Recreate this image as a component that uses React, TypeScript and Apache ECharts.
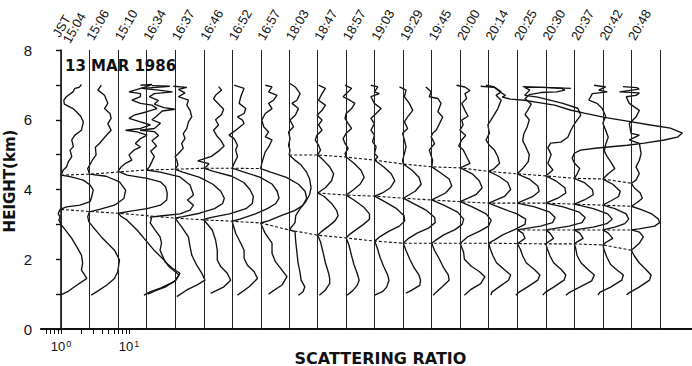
import React, { useEffect, useRef } from "react";
import * as echarts from "echarts";

// Observation times (JST), one per profile
const TIMES = ["15:04", "15:06", "15:10", "16:34", "16:37", "16:46", "16:52", "16:57", "18:03", "18:47", "18:57", "19:03", "19:29", "19:45", "20:00", "20:14", "20:25", "20:30", "20:37", "20:42", "20:48"];

// Each profile: [height km, scattering ratio]
const P1504 = [[7.01,2.0],[6.93,1.85],[6.9,1.6],[6.8,1.5],[6.66,1.2],[6.56,1.1],[6.45,1.12],[6.32,1.5],[6.22,1.7],[6.1,1.95],[5.94,2.13],[5.7,2.0],[5.56,1.6],[5.42,1.44],[5.23,1.52],[5.13,1.36],[4.94,1.44],[4.79,1.28],[4.65,1.21],[4.56,1.08],[4.41,1.0],[4.37,1.36],[4.27,2.13],[4.13,2.67],[3.99,2.98],[3.79,2.83],[3.65,2.67],[3.55,1.9],[3.5,1.21],[3.43,0.97],[3.31,0.91],[3.21,0.97],[3.12,0.93],[2.98,1.02],[2.79,1.21],[2.6,1.44],[2.36,1.7],[2.12,2.0],[1.89,2.08],[1.69,2.0],[1.45,2.4],[1.22,1.6],[1.07,1.25],[0.98,1.0]];
const P1506 = [[6.99,1.49],[6.85,1.33],[6.7,1.66],[6.47,1.86],[6.32,1.66],[6.18,2.0],[6.04,2.08],[5.89,1.86],[5.7,2.08],[5.49,1.66],[5.32,1.4],[5.21,1.22],[4.99,1.25],[4.84,1.1],[4.6,0.94],[4.44,1.0],[4.38,1.76],[4.22,2.76],[3.98,3.4],[3.74,3.2],[3.55,2.33],[3.43,1.4],[3.36,1.0],[3.22,0.94],[3.07,0.98],[2.88,1.18],[2.64,1.49],[2.26,2.33],[1.98,2.76],[1.64,2.6],[1.45,2.33],[1.26,1.8],[1.1,1.35],[0.97,1.06]];
const P1510 = [[6.99,2.14],[7.01,3.16],[6.93,2.4],[6.8,1.45],[6.75,2.14],[6.66,2.14],[6.56,1.6],[6.47,2.14],[6.42,3.16],[6.32,3.74],[6.23,2.67],[6.13,1.72],[6.04,1.45],[5.94,2.14],[5.85,3.0],[5.75,2.14],[5.7,1.29],[5.65,1.9],[5.56,2.67],[5.46,2.14],[5.32,1.8],[5.22,2.14],[5.13,1.72],[4.99,1.45],[4.84,1.6],[4.75,1.29],[4.63,1.09],[4.52,1.0],[4.41,1.36],[4.32,2.67],[4.22,4.2],[4.08,5.0],[3.89,5.3],[3.7,5.2],[3.55,4.2],[3.45,2.67],[3.38,1.53],[3.32,1.03],[3.24,1.09],[3.12,1.36],[2.84,1.9],[2.55,2.54],[2.26,3.38],[1.98,4.75],[1.79,5.6],[1.55,7.9],[1.36,6.7],[1.17,4.2],[1.07,3.0],[0.97,2.4]];
const P1634 = [[6.98,1.2],[6.96,2.2],[6.93,1.4],[6.9,0.85],[6.85,1.5],[6.8,2.4],[6.75,1.3],[6.66,1.1],[6.55,1.5],[6.45,1.3],[6.35,1.8],[6.3,2.6],[6.25,1.7],[6.1,1.4],[6.0,1.2],[5.9,1.6],[5.75,1.3],[5.7,0.8],[5.66,1.3],[5.55,1.5],[5.4,1.2],[5.25,1.4],[5.1,1.15],[4.95,1.3],[4.8,1.2],[4.65,1.1],[4.56,1.0],[4.5,1.58],[4.36,3.1],[4.13,4.36],[3.84,4.9],[3.7,4.0],[3.55,4.9],[3.41,4.36],[3.3,3.1],[3.24,1.58],[3.21,1.13],[3.17,1.18],[3.04,1.13],[2.84,1.33],[2.64,1.58],[2.46,1.66],[2.26,1.58],[1.93,1.87],[1.75,2.37],[1.6,3.1],[1.4,2.71],[1.2,1.87],[1.09,1.33],[1.0,1.05]];
const P1637 = [[6.96,0.94],[6.93,1.49],[6.87,1.12],[6.77,1.4],[6.66,1.12],[6.56,1.57],[6.42,1.49],[6.27,1.66],[6.08,1.76],[5.94,1.57],[5.75,1.49],[5.6,1.32],[5.46,1.4],[5.32,1.25],[5.18,1.32],[5.03,1.12],[4.94,1.0],[4.84,1.06],[4.7,1.1],[4.58,1.0],[4.5,1.3],[4.35,2.3],[4.15,3.6],[3.95,4.7],[3.75,5.3],[3.6,5.0],[3.45,3.8],[3.32,2.3],[3.22,1.3],[3.18,1.0],[2.93,1.25],[2.64,1.57],[2.36,1.66],[2.12,1.76],[1.83,2.08],[1.6,2.47],[1.4,2.76],[1.26,2.08],[1.12,1.49],[0.93,1.06]];
const P1646 = [[6.95,1.66],[6.85,1.84],[6.7,1.5],[6.6,1.4],[6.45,1.66],[6.3,1.97],[6.15,1.84],[6.0,1.5],[5.85,1.66],[5.7,1.4],[5.55,1.55],[5.4,1.8],[5.25,2.0],[5.1,1.66],[4.95,1.3],[4.82,0.82],[4.74,1.2],[4.66,1.1],[4.61,1.0],[4.52,1.4],[4.38,2.6],[4.2,3.9],[4.0,4.8],[3.8,5.4],[3.6,5.2],[3.45,4.2],[3.3,2.4],[3.2,1.3],[3.14,1.0],[2.84,1.34],[2.55,1.5],[2.26,1.59],[1.98,1.59],[1.79,1.78],[1.6,2.23],[1.4,2.5],[1.21,1.99],[1.02,1.27]];
const P1652 = [[6.99,1.07],[6.9,1.5],[6.66,1.34],[6.47,1.27],[6.32,1.59],[6.18,1.5],[6.08,1.2],[5.99,1.42],[5.89,1.5],[5.7,1.13],[5.56,0.9],[5.46,1.07],[5.27,1.2],[5.13,1.13],[4.94,1.2],[4.75,1.07],[4.61,1.0],[4.5,1.5],[4.35,2.6],[4.15,3.9],[3.95,4.6],[3.75,4.9],[3.6,4.4],[3.45,3.3],[3.3,2.2],[3.15,1.3],[3.09,1.0],[2.74,1.13],[2.46,1.34],[2.26,1.5],[2.03,1.5],[1.83,1.68],[1.64,2.11],[1.45,2.36],[1.21,1.78],[0.97,1.2]];
const P1657 = [[6.99,1.17],[6.94,1.47],[6.8,1.31],[6.7,1.74],[6.56,1.55],[6.47,1.31],[6.32,1.47],[6.18,1.17],[5.99,1.04],[5.8,1.11],[5.65,1.31],[5.51,1.17],[5.42,1.47],[5.22,1.31],[5.08,1.17],[4.94,1.11],[4.75,1.04],[4.6,1.0],[4.5,1.4],[4.35,2.4],[4.15,3.6],[3.95,4.5],[3.75,4.75],[3.55,4.2],[3.4,3.2],[3.25,2.0],[3.1,1.3],[3.04,1.0],[2.74,1.17],[2.46,1.47],[2.17,1.47],[1.93,1.65],[1.69,2.06],[1.5,2.44],[1.26,2.06],[1.07,1.47],[1.0,1.31]];
const P1803 = [[7.04,1.03],[6.94,1.23],[6.75,1.45],[6.56,1.3],[6.47,1.1],[6.32,1.37],[6.13,1.23],[5.99,1.03],[5.8,1.16],[5.65,0.98],[5.46,1.03],[5.27,0.98],[5.13,1.03],[4.99,1.0],[4.85,1.2],[4.7,1.5],[4.5,1.8],[4.3,2.0],[4.05,2.1],[3.85,2.0],[3.65,1.75],[3.45,1.45],[3.25,1.25],[3.05,1.22],[2.84,1.0],[2.79,1.22],[2.5,1.25],[2.2,1.3],[1.9,1.35],[1.6,1.45],[1.4,1.5],[1.21,1.7],[1.07,1.6],[0.97,1.37]];
const P1847 = [[6.99,1.03],[6.9,1.3],[6.75,1.16],[6.56,1.03],[6.42,1.3],[6.27,1.16],[6.13,0.98],[5.99,1.16],[5.85,1.03],[5.7,1.16],[5.56,0.98],[5.42,0.92],[5.27,1.03],[5.13,1.1],[4.99,1.0],[4.85,1.2],[4.65,1.5],[4.45,1.72],[4.25,1.6],[4.05,1.3],[3.9,1.0],[3.8,1.25],[3.6,1.6],[3.4,1.9],[3.25,2.0],[3.1,1.8],[2.95,1.45],[2.8,1.15],[2.69,1.0],[2.5,1.1],[2.2,1.2],[1.9,1.3],[1.6,1.45],[1.45,1.5],[1.3,1.5],[1.12,1.3],[0.97,1.06]];
const P1857 = [[6.99,0.96],[6.9,1.2],[6.8,1.07],[6.66,0.9],[6.56,1.13],[6.47,1.34],[6.32,1.2],[6.18,1.0],[6.04,0.96],[5.89,1.07],[5.75,1.2],[5.61,1.0],[5.46,0.9],[5.32,0.96],[5.18,1.07],[5.03,0.96],[4.93,1.0],[4.75,1.3],[4.55,1.65],[4.35,1.84],[4.15,1.6],[3.98,1.25],[3.84,1.0],[3.7,1.3],[3.5,1.8],[3.3,2.2],[3.15,2.2],[3.0,1.8],[2.85,1.4],[2.7,1.1],[2.61,1.0],[2.4,1.1],[2.1,1.2],[1.85,1.3],[1.6,1.45],[1.4,1.55],[1.25,1.45],[1.1,1.25],[0.97,1.03]];
const P1903 = [[6.99,0.88],[6.94,1.11],[6.8,0.99],[6.75,1.17],[6.66,0.88],[6.47,0.99],[6.32,1.24],[6.18,1.05],[6.04,0.88],[5.89,0.99],[5.7,0.88],[5.56,0.99],[5.37,0.93],[5.22,1.05],[5.03,0.99],[4.94,1.11],[4.84,1.0],[4.65,1.35],[4.45,1.75],[4.25,1.97],[4.05,1.7],[3.9,1.3],[3.81,1.0],[3.65,1.4],[3.45,2.1],[3.25,2.7],[3.1,2.76],[2.95,2.3],[2.8,1.6],[2.65,1.2],[2.52,1.0],[2.3,1.1],[2.05,1.2],[1.8,1.35],[1.55,1.55],[1.4,1.62],[1.2,1.5],[1.07,1.3],[0.97,1.0]];
const P1929 = [[6.94,0.88],[6.85,1.1],[6.66,1.04],[6.47,1.23],[6.27,1.38],[6.08,1.16],[5.94,1.04],[5.75,1.16],[5.61,0.98],[5.42,1.04],[5.22,1.1],[5.03,1.04],[4.84,0.98],[4.73,1.0],[4.55,1.35],[4.35,1.7],[4.15,1.84],[3.95,1.5],[3.75,1.0],[3.6,1.4],[3.4,2.2],[3.2,2.9],[3.05,2.95],[2.9,2.4],[2.75,1.6],[2.6,1.2],[2.46,1.0],[2.25,1.1],[2.0,1.25],[1.75,1.45],[1.55,1.7],[1.4,1.8],[1.25,1.75],[1.1,1.3],[1.03,1.1]];
const P1945 = [[6.94,0.82],[6.8,0.98],[6.66,0.92],[6.61,1.23],[6.47,1.37],[6.23,1.23],[6.08,1.45],[5.89,1.3],[5.7,1.16],[5.61,1.03],[5.51,0.98],[5.32,1.1],[5.13,0.92],[4.84,1.03],[4.65,1.0],[4.5,1.3],[4.3,1.8],[4.1,1.97],[3.9,1.6],[3.7,1.0],[3.55,1.5],[3.35,2.4],[3.15,2.95],[3.0,2.8],[2.85,2.2],[2.7,1.5],[2.55,1.15],[2.46,1.0],[2.25,1.1],[2.0,1.3],[1.75,1.5],[1.55,1.75],[1.4,1.8],[1.2,1.4],[1.05,1.15],[0.97,1.05]];
const P2000 = [[6.99,0.88],[6.94,1.17],[6.84,1.39],[6.75,1.17],[6.61,1.24],[6.47,1.05],[6.27,1.17],[6.1,1.3],[5.99,1.05],[5.85,1.1],[5.7,0.99],[5.55,1.2],[5.42,1.05],[5.25,0.95],[5.13,1.11],[4.94,1.24],[4.75,1.39],[4.62,1.0],[4.45,1.5],[4.25,1.9],[4.05,2.1],[3.85,1.7],[3.65,1.0],[3.5,1.5],[3.3,2.4],[3.12,2.85],[2.95,2.6],[2.8,1.9],[2.65,1.3],[2.46,1.0],[2.38,1.03],[2.2,1.12],[2.0,1.15],[1.8,1.45],[1.65,1.9],[1.5,2.3],[1.3,2.0],[1.12,1.4],[0.97,1.15]];
const P2014 = [[6.99,0.91],[6.94,1.21],[6.8,1.52],[6.7,1.28],[6.56,1.52],[6.32,1.36],[6.08,1.15],[5.85,0.97],[5.61,1.02],[5.42,0.91],[5.27,1.02],[5.13,1.21],[4.94,1.36],[4.75,1.44],[4.6,1.2],[4.52,1.0],[4.38,1.4],[4.2,1.9],[4.0,2.1],[3.8,1.7],[3.61,1.0],[3.45,1.6],[3.3,2.6],[3.15,3.5],[3.0,3.4],[2.85,2.4],[2.7,1.6],[2.55,1.2],[2.46,1.0],[2.3,1.05],[2.1,1.15],[1.9,1.3],[1.7,1.7],[1.55,2.1],[1.4,1.95],[1.2,1.4],[1.05,1.1],[0.97,1.08]];
const P2025 = [[6.95,1.2],[6.92,2.8],[6.9,4.5],[6.85,5.0],[6.8,3.8],[6.78,2.2],[6.72,1.5],[6.6,1.3],[6.45,1.6],[6.3,1.45],[6.15,1.3],[6.0,1.5],[5.8,1.4],[5.6,1.25],[5.4,1.2],[5.2,1.35],[5.0,1.5],[4.8,1.45],[4.6,1.2],[4.45,1.0],[4.3,1.5],[4.1,2.0],[3.95,2.1],[3.8,1.7],[3.61,1.0],[3.5,1.8],[3.35,3.0],[3.2,3.6],[3.05,3.3],[2.95,2.2],[2.84,1.0],[2.75,1.2],[2.6,1.3],[2.5,1.1],[2.45,1.0],[2.3,1.1],[2.1,1.2],[1.9,1.35],[1.7,1.8],[1.55,2.15],[1.4,2.0],[1.2,1.4],[1.05,1.05],[0.97,0.95]];
const P2030 = [[6.9,2.33],[6.93,0.97],[6.93,0.49],[6.85,0.58],[6.7,0.49],[6.65,0.76],[6.47,1.78],[6.33,2.95],[6.13,3.27],[5.9,2.67],[5.7,2.33],[5.5,2.11],[5.36,1.66],[5.33,1.18],[5.2,1.07],[5.0,1.2],[4.75,1.07],[4.56,1.27],[4.39,1.0],[4.25,1.4],[4.05,1.9],[3.9,1.97],[3.75,1.5],[3.61,1.0],[3.5,1.8],[3.35,3.1],[3.2,3.8],[3.05,3.4],[2.95,2.2],[2.84,1.0],[2.75,1.15],[2.6,1.3],[2.5,1.1],[2.44,1.0],[2.3,1.05],[2.1,1.15],[1.9,1.3],[1.7,1.7],[1.55,1.97],[1.4,1.85],[1.2,1.3],[1.05,0.98],[0.97,0.9]];
const P2037 = [[6.96,0.042],[6.93,0.066],[6.79,0.082],[6.7,0.097],[6.65,0.087],[6.59,0.115],[6.56,0.184],[6.5,0.286],[6.42,0.51],[6.28,0.87],[6.19,1.4],[6.07,2.76],[5.96,6.0],[5.85,13.1],[5.76,25.8],[5.62,38.8],[5.5,32.7],[5.42,21],[5.33,10.7],[5.27,6.0],[5.19,2.18],[5.13,1.23],[5.04,1.0],[4.9,0.93],[4.76,1.0],[4.6,1.2],[4.45,1.1],[4.32,1.0],[4.2,1.4],[4.0,1.84],[3.85,1.9],[3.7,1.4],[3.58,1.0],[3.45,1.9],[3.3,3.1],[3.15,3.6],[3.02,3.0],[2.92,1.9],[2.84,1.0],[2.75,1.2],[2.6,1.35],[2.5,1.1],[2.44,1.0],[2.3,1.05],[2.1,1.1],[1.9,1.25],[1.7,1.6],[1.55,1.97],[1.38,1.8],[1.2,1.2],[1.05,0.85],[0.97,0.75]];
const P2042 = [[6.99,0.74],[6.94,1.1],[6.85,0.87],[6.8,1.16],[6.75,0.7],[6.56,0.62],[6.47,0.82],[6.32,0.98],[6.1,1.1],[5.9,1.0],[5.7,1.1],[5.5,1.2],[5.3,1.1],[5.1,1.05],[4.95,1.15],[4.8,1.3],[4.6,1.5],[4.45,1.2],[4.3,1.0],[4.15,1.4],[3.95,1.8],[3.8,1.7],[3.67,1.3],[3.55,1.0],[3.45,1.5],[3.3,2.2],[3.15,2.4],[3.02,2.1],[2.92,1.5],[2.84,1.0],[2.75,1.2],[2.6,1.4],[2.48,1.1],[2.41,1.0],[2.25,1.05],[2.05,1.15],[1.85,1.3],[1.7,1.6],[1.55,2.0],[1.4,1.9],[1.2,1.3],[1.05,0.9],[0.97,0.85]];
const P2048 = [[6.95,0.75],[6.92,1.2],[6.88,1.3],[6.8,0.67],[6.77,1.31],[6.7,1.17],[6.66,0.84],[6.47,0.93],[6.27,1.31],[6.08,1.17],[5.89,0.93],[5.61,0.99],[5.56,1.31],[5.42,0.93],[5.32,1.31],[5.03,1.39],[4.84,1.31],[4.65,1.17],[4.46,1.31],[4.27,1.17],[4.18,1.0],[4.05,1.1],[3.9,1.35],[3.75,1.45],[3.62,1.2],[3.52,1.0],[3.42,1.4],[3.3,2.0],[3.15,2.5],[3.05,2.6],[2.95,2.2],[2.87,1.3],[2.84,1.0],[2.78,1.31],[2.64,1.5],[2.46,1.31],[2.26,1.0],[2.1,1.1],[1.9,1.3],[1.7,1.65],[1.55,1.95],[1.4,1.85],[1.2,1.3],[1.05,0.95],[0.98,0.85]];

const PROFILES = [P1504, P1506, P1510, P1634, P1637, P1646, P1652, P1657, P1803, P1847, P1857, P1903, P1929, P1945, P2000, P2014, P2025, P2030, P2037, P2042, P2048];

// Layer boundaries (dotted lines): [profile index, height km]
const LAYER_A = [[0,4.41],[1,4.44],[2,4.5],[3,4.56],[4,4.58],[5,4.61],[6,4.61],[7,4.6]];
const LAYER_B = [[0,3.43],[1,3.37],[2,3.32],[3,3.25],[4,3.18],[5,3.13],[6,3.09],[7,3.04],[8,2.84],[9,2.69],[10,2.61],[11,2.52],[12,2.46],[13,2.46],[14,2.46],[15,2.46],[16,2.45],[17,2.44],[18,2.44],[19,2.41],[20,2.26]];
const LAYER_C = [[8,4.99],[9,4.99],[10,4.93],[11,4.84],[12,4.73],[13,4.65],[14,4.62],[15,4.52],[16,4.45],[17,4.39],[18,4.32],[19,4.3],[20,4.18]];
const LAYER_D = [[9,3.9],[10,3.84],[11,3.81],[12,3.75],[13,3.7],[14,3.65],[15,3.61],[16,3.61],[17,3.61],[18,3.58],[19,3.55],[20,3.52]];
const LAYER_E = [[16,2.84],[17,2.84],[18,2.84],[19,2.84],[20,2.84]];

const LOG_TICKS = [0.6, 0.7, 0.8, 0.9, 1, 2, 3, 4, 5, 6, 7, 8, 9, 10];
const HEIGHT_MIN = 0;
const HEIGHT_MAX = 8;

// plotting convention: each successive profile shifted by this many decades
const OFFSET = 0.4194;
const XMIN = -0.2941;
const XMAX = 9.2794;

const INK = "#111111";

export default function App() {
  const ref = useRef<HTMLDivElement>(null);
  useEffect(() => {
    document.body.style.margin = "0";
    const chart = echarts.init(ref.current as HTMLDivElement, null, { renderer: "svg" });
    const baseValues = Array.from({ length: PROFILES.length + 1 }, (_, i) => i * OFFSET);
    const profileSeries = PROFILES.map((p, i) => ({
      type: "line",
      name: TIMES[i],
      data: p.map(([h, r]) => [Math.log10(r) + i * OFFSET, h]),
      showSymbol: false,
      symbol: "none",
      silent: true,
      z: 4,
      lineStyle: { color: INK, width: 1.35 },
    }));
    const layerSeries = [LAYER_A, LAYER_B, LAYER_C, LAYER_D, LAYER_E].map((l) => ({
      type: "line",
      data: l.map(([i, h]) => [i * OFFSET, h]),
      showSymbol: false,
      symbol: "none",
      silent: true,
      z: 3,
      lineStyle: { color: INK, width: 1.1, type: [3, 2] },
    }));
    const option: any = {
      animation: false,
      backgroundColor: "#ffffff",
      grid: { left: 41, right: 0, top: 50, bottom: 37, containLabel: false, outerBoundsMode: "none" },
      xAxis: [
        {
          type: "value",
          position: "bottom",
          min: XMIN,
          max: XMAX,
          axisLine: { show: true, lineStyle: { color: INK, width: 1.6 } },
          axisTick: { show: true, length: 5, customValues: LOG_TICKS.map((v) => Math.log10(v)), lineStyle: { color: INK, width: 1 } },
          axisLabel: {
            show: true,
            customValues: [0, 1],
            margin: 10,
            formatter: (v: number) => (v < 0.5 ? "10{s|0}" : "10{s|1}"),
            color: INK,
            fontSize: 13,
            fontFamily: "Liberation Sans, Arial, sans-serif",
            rich: { s: { fontSize: 9, verticalAlign: "top", padding: [0, 0, 6, 1], color: INK, fontFamily: "Liberation Sans, Arial, sans-serif" } },
          },
          splitLine: { show: false },
          name: "SCATTERING RATIO",
          nameLocation: "middle",
          nameGap: 21,
          nameMoveOverlap: false,
          nameTextStyle: { color: INK, fontSize: 16, fontWeight: "bold", fontFamily: "DejaVu Sans, sans-serif", padding: [0, 0, 0, 28] },
        },
        {
          type: "value",
          position: "top",
          min: XMIN,
          max: XMAX,
          axisLine: { show: true, lineStyle: { color: INK, width: 1.8 } },
          axisTick: { show: false },
          axisLabel: {
            show: true,
            customValues: baseValues.slice(0, TIMES.length),
            rotate: 60,
            margin: 11,
            color: INK,
            fontSize: 13,
            lineHeight: 12,
            fontFamily: "Liberation Sans Narrow, Liberation Sans, Arial, sans-serif",
            formatter: (v: number) => {
              const i = Math.round(v / OFFSET);
              return i === 0 ? "JST\n" + TIMES[0] : TIMES[i] || "";
            },
          },
          splitLine: { show: false },
        },
      ],
      yAxis: [
        {
          type: "value",
          position: "left",
          min: HEIGHT_MIN,
          max: HEIGHT_MAX,
          interval: 1,
          axisLine: { show: true, lineStyle: { color: INK, width: 1.6 } },
          axisTick: { show: true, length: 5, lineStyle: { color: INK, width: 1.2 } },
          axisLabel: {
            margin: 9,
            color: INK,
            fontSize: 15,
            fontFamily: "Liberation Sans Narrow, Liberation Sans, Arial, sans-serif",
            formatter: (v: number) => (v % 2 === 0 ? String(v) : ""),
          },
          splitLine: { show: false },
        },
        {
          type: "value",
          position: "right",
          min: HEIGHT_MIN,
          max: HEIGHT_MAX,
          interval: 1,
          axisLine: { show: false },
          axisTick: { show: true, inside: true, length: 5, lineStyle: { color: INK, width: 1.2 } },
          axisLabel: { show: false },
          splitLine: { show: false },
        },
      ],
      graphic: [
        {
          type: "text",
          x: 10,
          y: 181,
          rotation: Math.PI / 2,
          style: { text: "HEIGHT(km)", fill: INK, font: "bold 15px 'DejaVu Sans', sans-serif", align: "center", verticalAlign: "middle" },
        },
        {
          type: "text",
          x: 65,
          y: 66,
          style: { text: "13 MAR 1986", fill: INK, font: "bold 15px 'DejaVu Sans', sans-serif", align: "left", verticalAlign: "middle" },
          z: 10,
        },
      ],
      series: [
        {
          type: "line",
          data: [],
          silent: true,
          z: 2,
          markLine: {
            silent: true,
            symbol: ["none", "none"],
            label: { show: false },
            lineStyle: { color: "#222222", width: 1, type: "solid" },
            data: baseValues.map((v) => ({ xAxis: v })),
          },
        },
        ...layerSeries,
        ...profileSeries,
      ],
    };
    chart.setOption(option);
    return () => chart.dispose();
  }, []);
  return <div ref={ref} style={{ width: 692, height: 366 }} />;
}
